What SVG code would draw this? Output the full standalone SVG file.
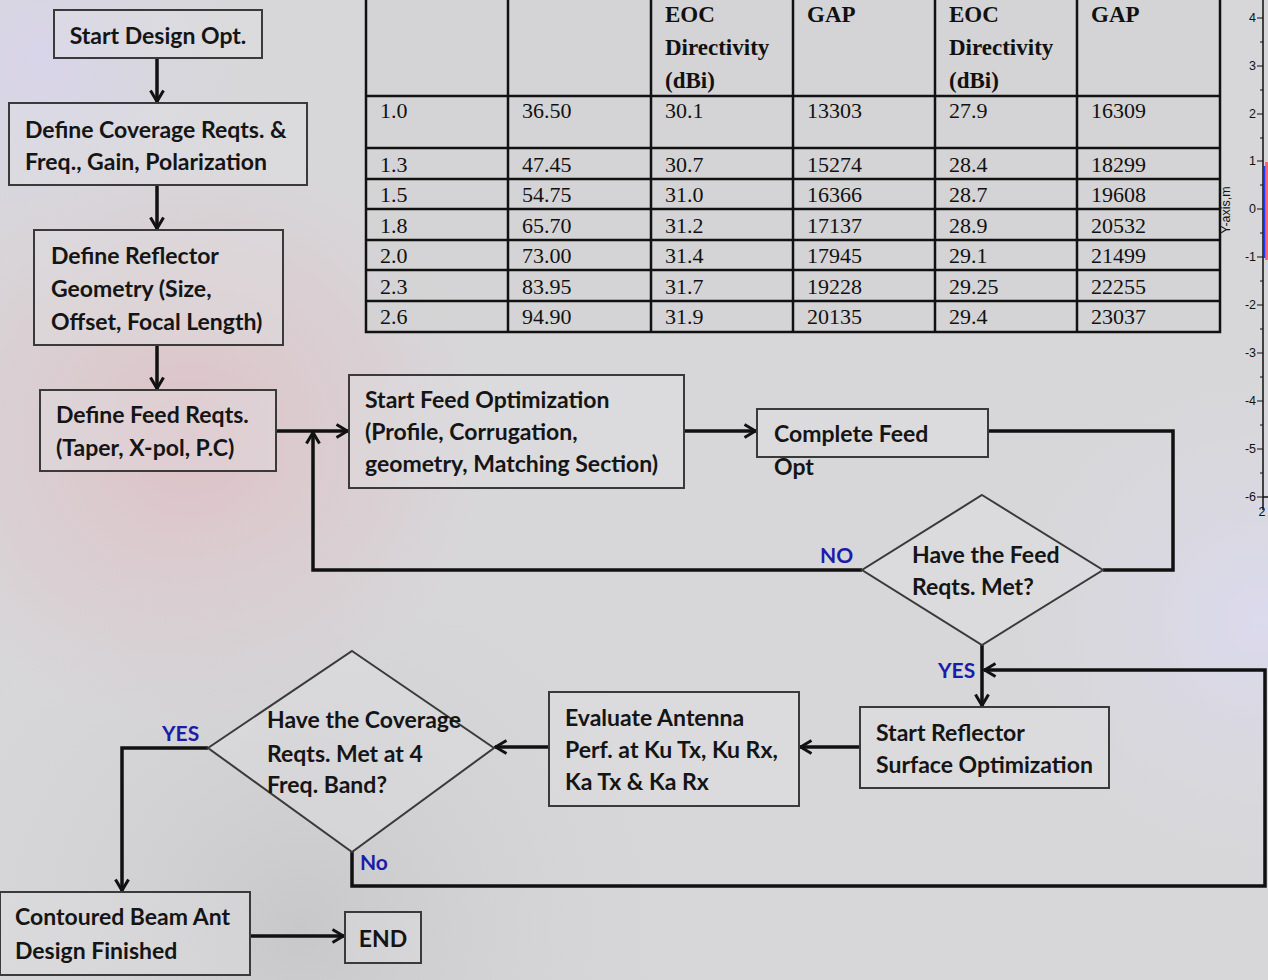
<svg xmlns="http://www.w3.org/2000/svg" width="1268" height="980" viewBox="0 0 1268 980">
<defs>
<radialGradient id="pink" cx="190" cy="440" r="340" gradientUnits="userSpaceOnUse">
<stop offset="0" stop-color="#e0bcc2" stop-opacity="0.8"/>
<stop offset="0.6" stop-color="#dcc8cd" stop-opacity="0.45"/>
<stop offset="1" stop-color="#d8d8da" stop-opacity="0"/>
</radialGradient>
<radialGradient id="lav" cx="40" cy="60" r="260" gradientUnits="userSpaceOnUse">
<stop offset="0" stop-color="#d9d4ec" stop-opacity="0.9"/>
<stop offset="1" stop-color="#d8d8da" stop-opacity="0"/>
</radialGradient>
<radialGradient id="lav2" cx="1260" cy="620" r="300" gradientUnits="userSpaceOnUse">
<stop offset="0" stop-color="#dcdaf0" stop-opacity="0.9"/>
<stop offset="1" stop-color="#d8d8da" stop-opacity="0"/>
</radialGradient>
<radialGradient id="moon" cx="300" cy="930" r="420" gradientUnits="userSpaceOnUse">
<stop offset="0" stop-color="#c4c4c6" stop-opacity="0.8"/>
<stop offset="1" stop-color="#d6d6d8" stop-opacity="0"/>
</radialGradient>
<marker id="arr" viewBox="0 0 14 16" refX="13" refY="8" markerWidth="14" markerHeight="16" markerUnits="userSpaceOnUse" orient="auto">
<path d="M1.5,1.5 L12.5,8 L1.5,14.5" fill="none" stroke="#111" stroke-width="3" stroke-linejoin="miter"/>
</marker>
<style>
.box{fill:#e2e2e4;fill-opacity:0.35;stroke:#3a3a3a;stroke-width:2}
.t{font-family:Lato,"Open Sans","Liberation Sans",sans-serif;font-weight:bold;font-size:23px;fill:#151515}
.lab{font-family:Lato,"Open Sans","Liberation Sans",sans-serif;font-weight:bold;font-size:21px;fill:#1c1ca8}
.c{fill:none;stroke:#111;stroke-width:3.5}
.ca{fill:none;stroke:#111;stroke-width:3.5;marker-end:url(#arr)}
.tb{stroke:#111;stroke-width:2.5;fill:none}
.th{font-family:"Liberation Serif",serif;font-weight:bold;font-size:23px;fill:#111}
.td{font-family:"Liberation Serif",serif;font-size:22px;fill:#111}
.ax{font-family:"Liberation Sans",Arial,sans-serif;font-size:12.5px;fill:#111}
</style>
</defs>
<rect x="0" y="0" width="1268" height="980" fill="#d7d7d9"/>
<rect x="0" y="0" width="1268" height="980" fill="url(#lav)"/>
<rect x="0" y="0" width="1268" height="980" fill="url(#pink)"/>
<rect x="0" y="0" width="1268" height="980" fill="url(#lav2)"/>
<rect x="0" y="0" width="1268" height="980" fill="url(#moon)"/>

<g id="table">
<rect x="366" y="-2" width="854" height="334" fill="#d2d2d3" fill-opacity="0.6"/>
<path class="tb" d="M366,-2 V332 H1220 V-2 M508,-2 V332 M651,-2 V332 M793,-2 V332 M935,-2 V332 M1077,-2 V332 M366,96 H1220 M366,148 H1220 M366,179 H1220 M366,209 H1220 M366,240 H1220 M366,270 H1220 M366,301 H1220"/>
<text class="th" x="665" y="22">EOC</text>
<text class="th" x="665" y="55">Directivity</text>
<text class="th" x="665" y="88">(dBi)</text>
<text class="th" x="807" y="22">GAP</text>
<text class="th" x="949" y="22">EOC</text>
<text class="th" x="949" y="55">Directivity</text>
<text class="th" x="949" y="88">(dBi)</text>
<text class="th" x="1091" y="22">GAP</text>
<g class="td">
<text x="380" y="118">1.0</text><text x="522" y="118">36.50</text><text x="665" y="118">30.1</text><text x="807" y="118">13303</text><text x="949" y="118">27.9</text><text x="1091" y="118">16309</text>
<text x="380" y="172">1.3</text><text x="522" y="172">47.45</text><text x="665" y="172">30.7</text><text x="807" y="172">15274</text><text x="949" y="172">28.4</text><text x="1091" y="172">18299</text>
<text x="380" y="202">1.5</text><text x="522" y="202">54.75</text><text x="665" y="202">31.0</text><text x="807" y="202">16366</text><text x="949" y="202">28.7</text><text x="1091" y="202">19608</text>
<text x="380" y="233">1.8</text><text x="522" y="233">65.70</text><text x="665" y="233">31.2</text><text x="807" y="233">17137</text><text x="949" y="233">28.9</text><text x="1091" y="233">20532</text>
<text x="380" y="263">2.0</text><text x="522" y="263">73.00</text><text x="665" y="263">31.4</text><text x="807" y="263">17945</text><text x="949" y="263">29.1</text><text x="1091" y="263">21499</text>
<text x="380" y="294">2.3</text><text x="522" y="294">83.95</text><text x="665" y="294">31.7</text><text x="807" y="294">19228</text><text x="949" y="294">29.25</text><text x="1091" y="294">22255</text>
<text x="380" y="324">2.6</text><text x="522" y="324">94.90</text><text x="665" y="324">31.9</text><text x="807" y="324">20135</text><text x="949" y="324">29.4</text><text x="1091" y="324">23037</text>
</g>
</g>

<g id="axis">
<rect x="1265" y="162" width="3" height="98" fill="#ff6670"/>
<path d="M1264.5,166 V258" stroke="#1a3cff" stroke-width="1.5"/>
<path d="M1263,0 V510 M1263,497 H1268" stroke="#111" stroke-width="1.5" fill="none"/>
<path d="M1257,18 H1263 M1257,66 H1263 M1257,114 H1263 M1257,161 H1263 M1257,209 H1263 M1257,257 H1263 M1257,305 H1263 M1257,353 H1263 M1257,401 H1263 M1257,449 H1263 M1257,497 H1263" stroke="#111" stroke-width="1.2"/>
<path d="M1260,42 H1263 M1260,90 H1263 M1260,138 H1263 M1260,185 H1263 M1260,233 H1263 M1260,281 H1263 M1260,329 H1263 M1260,377 H1263 M1260,425 H1263 M1260,473 H1263" stroke="#111" stroke-width="1"/>
<g class="ax" text-anchor="end">
<text x="1256" y="22">4</text><text x="1256" y="70">3</text><text x="1256" y="118">2</text><text x="1256" y="165">1</text><text x="1256" y="213">0</text><text x="1256" y="261">-1</text><text x="1256" y="309">-2</text><text x="1256" y="357">-3</text><text x="1256" y="405">-4</text><text x="1256" y="453">-5</text><text x="1256" y="501">-6</text>
</g>
<text class="ax" x="1262" y="516" text-anchor="middle">2</text>
<text class="ax" transform="translate(1230,210) rotate(-90)" text-anchor="middle">Y-axis,m</text>
</g>

<g id="connectors">
<path class="ca" d="M157,59 V102"/>
<path class="ca" d="M157,185 V229"/>
<path class="ca" d="M157,345 V389"/>
<path class="ca" d="M276,431 H348"/>
<path class="ca" d="M862,570 H313 V432"/>
<path class="ca" d="M684,431 H756"/>
<path class="c" d="M988,431 H1173 V570 H1103"/>
<path class="ca" d="M982,645 V706"/>
<path class="ca" d="M352,852 V886 H1265 V670 H984"/>
<path class="ca" d="M860,747 H800"/>
<path class="ca" d="M549,747 H495"/>
<path class="ca" d="M208,748 H122 V891"/>
<path class="ca" d="M250,936 H344"/>
</g>

<g id="n1"><rect class="box" x="54" y="10" width="208" height="48"/><text class="t" x="158" y="44" text-anchor="middle">Start Design Opt.</text></g>
<g id="n2"><rect class="box" x="9" y="103" width="298" height="82"/><text class="t" x="25" y="138">Define Coverage Reqts. &amp;</text><text class="t" x="25" y="170">Freq., Gain, Polarization</text></g>
<g id="n3"><rect class="box" x="34" y="230" width="249" height="115"/><text class="t" x="51" y="264">Define Reflector</text><text class="t" x="51" y="297">Geometry (Size,</text><text class="t" x="51" y="330">Offset, Focal Length)</text></g>
<g id="n4"><rect class="box" x="40" y="390" width="236" height="81"/><text class="t" x="56" y="423">Define Feed Reqts.</text><text class="t" x="56" y="456">(Taper, X-pol, P.C)</text></g>
<g id="n5"><rect class="box" x="349" y="375" width="335" height="113"/><text class="t" x="365" y="408">Start Feed Optimization</text><text class="t" x="365" y="440">(Profile, Corrugation,</text><text class="t" x="365" y="472">geometry, Matching Section)</text></g>
<g id="n6"><rect class="box" x="757" y="409" width="231" height="48"/><text class="t" x="774" y="442">Complete Feed</text><text class="t" x="774" y="475">Opt</text></g>
<g id="d1"><polygon class="box" points="982,495 1103,570 982,645 862,570"/><text class="t" x="912" y="563">Have the Feed</text><text class="t" x="912" y="595">Reqts. Met?</text></g>
<g id="n7"><rect class="box" x="860" y="707" width="249" height="81"/><text class="t" x="876" y="741">Start Reflector</text><text class="t" x="876" y="773">Surface Optimization</text></g>
<g id="n8"><rect class="box" x="549" y="692" width="250" height="114"/><text class="t" x="565" y="726">Evaluate Antenna</text><text class="t" x="565" y="758">Perf. at Ku Tx, Ku Rx,</text><text class="t" x="565" y="790">Ka Tx &amp; Ka Rx</text></g>
<g id="d2"><polygon class="box" points="352,651 494,748 352,852 208,748"/><text class="t" x="267" y="728">Have the Coverage</text><text class="t" x="267" y="762">Reqts. Met at 4</text><text class="t" x="267" y="793">Freq. Band?</text></g>
<g id="n9"><rect class="box" x="0" y="892" width="250" height="83"/><text class="t" x="15" y="925">Contoured Beam Ant</text><text class="t" x="15" y="959">Design Finished</text></g>
<g id="n10"><rect class="box" x="345" y="912" width="76" height="51"/><text class="t" x="383" y="947" text-anchor="middle">END</text></g>

<g id="labels">
<text class="lab" x="820" y="563">NO</text>
<text class="lab" x="938" y="678">YES</text>
<text class="lab" x="162" y="741">YES</text>
<text class="lab" x="360" y="870">No</text>
</g>
</svg>
